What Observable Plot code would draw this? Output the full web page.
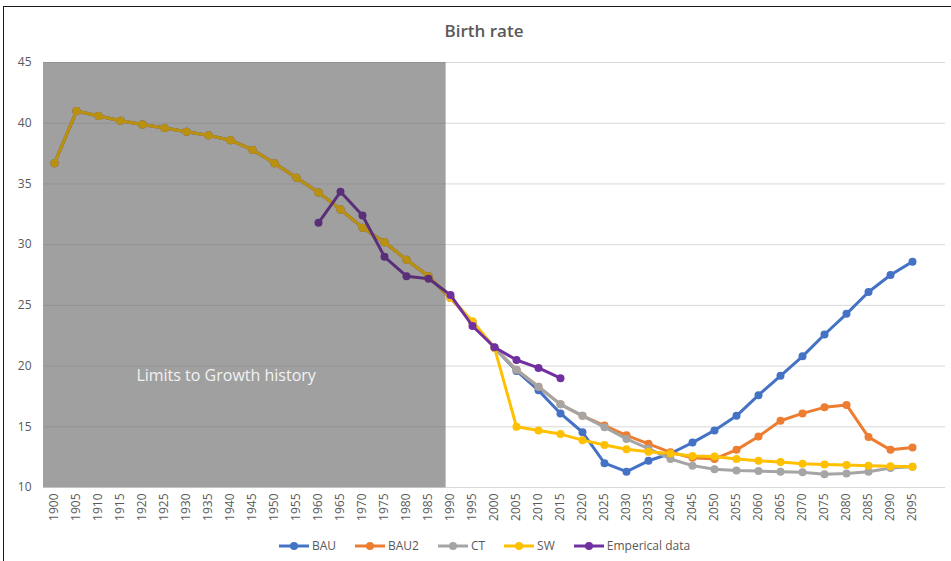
<!DOCTYPE html>
<html>
<head>
<meta charset="utf-8">
<script src="https://cdn.jsdelivr.net/npm/d3@7"></script>
<script src="https://cdn.jsdelivr.net/npm/@observablehq/plot@0.6"></script>
<style>
  html, body { margin: 0; padding: 0; background: #fff; overflow: hidden; }
  body { width: 951px; height: 561px; position: relative; font-family: "Open Sans", "Noto Sans", sans-serif; }
  #frame { position: absolute; left: 3px; top: 6px; width: 1000px; height: 700px; border: 1.5px solid #1a1a1a; box-sizing: border-box; }
  #title { position: absolute; left: 0; width: 968px; top: 19px; text-align: center; font-size: 17px; font-weight: 600; color: #595959; }
  #chart { position: absolute; left: 0; top: 50px; }
  #legend { position: absolute; left: 0; width: 968px; top: 537px; display: flex; justify-content: center; gap: 18px; font-size: 12px; color: #595959; }
  .item { display: flex; align-items: center; gap: 2px; }
  .item svg { display: block; }
</style>
</head>
<body>
<div id="frame"></div>
<div id="title">Birth rate</div>
<div id="chart"></div>
<div id="legend"></div>
<script>
// ---- data ----
const historyYears = [1900,1905,1910,1915,1920,1925,1930,1935,1940,1945,1950,1955,1960,1965,1970,1975,1980,1985,1990];
const historyValues = [36.7,41.0,40.6,40.2,39.9,39.6,39.3,39.0,38.6,37.8,36.7,35.5,34.3,32.9,31.4,30.2,28.75,27.4,25.6];

const scenarioYears = [1995,2000,2005,2010,2015,2020,2025,2030,2035,2040,2045,2050,2055,2060,2065,2070,2075,2080,2085,2090,2095];
const bau  = [23.6,21.5,19.6,18.0,16.1,14.55,12.0,11.3,12.2,12.8,13.7,14.7,15.9,17.6,19.2,20.8,22.6,24.3,26.1,27.5,28.6];
const bau2 = [23.6,21.5,19.7,18.3,16.85,15.9,15.1,14.3,13.6,12.9,12.45,12.35,13.1,14.2,15.5,16.1,16.6,16.8,14.15,13.1,13.3];
const ct   = [23.6,21.5,19.7,18.3,16.85,15.9,14.97,14.0,13.2,12.35,11.8,11.5,11.4,11.35,11.3,11.25,11.1,11.15,11.3,11.6,11.7];
const sw   = [23.7,21.5,15.0,14.7,14.4,13.9,13.5,13.15,12.95,12.8,12.6,12.55,12.35,12.2,12.1,11.95,11.9,11.85,11.8,11.75,11.7];

const empiricalYears = [1960,1965,1970,1975,1980,1985,1990,1995,2000,2005,2010,2015];
const empiricalValues = [31.8,34.35,32.4,29.0,27.4,27.2,25.85,23.3,21.55,20.5,19.85,19.0];

const seriesNames = ["BAU","BAU2","CT","SW","Emperical data"];
const seriesColors = ["#4472C4","#ED7D31","#A5A5A5","#FFC000","#7030A0"];

const xTicks = d3.range(1900, 2100, 5);
const yTicks = [10,15,20,25,30,35,40,45];
const xDomain = [1897.5, 2102.5];
const yDomain = [10, 45];
const shadedPeriod = [1897.5, 1989];
const shadedLabel = {year: 1939, value: 19.2, text: "Limits to Growth history"};

// ---- build tables ----
function scenarioRows(values) {
  const rows = historyYears.map((y, i) => ({year: y, value: historyValues[i]}));
  scenarioYears.forEach((y, i) => rows.push({year: y, value: values[i]}));
  return rows;
}
const tables = [
  scenarioRows(bau),
  scenarioRows(bau2),
  scenarioRows(ct),
  scenarioRows(sw),
  empiricalYears.map((y, i) => ({year: y, value: empiricalValues[i]}))
];

const marks = [];
// gridlines
marks.push(Plot.ruleY(yTicks, {y: d => d, stroke: "#d9d9d9", strokeWidth: 1}));
// shaded region base
marks.push(Plot.rect([shadedPeriod], {x1: d => d[0], x2: d => d[1], y1: yDomain[0], y2: yDomain[1], fill: "#d9d9d9"}));
marks.push(Plot.ruleY(yTicks, {y: d => d, x1: shadedPeriod[0], x2: shadedPeriod[1], stroke: "#c4c4c4", strokeWidth: 1}));
// series
tables.forEach((t, i) => {
  marks.push(Plot.line(t, {x: "year", y: "value", stroke: seriesColors[i], strokeWidth: 3, curve: "linear"}));
  marks.push(Plot.dot(t, {x: "year", y: "value", fill: seriesColors[i], r: 4}));
});
// overlay darkening
marks.push(Plot.rect([shadedPeriod], {x1: d => d[0], x2: d => d[1], y1: yDomain[0], y2: yDomain[1], fill: "#2e2e2e", fillOpacity: 0.33}));
marks.push(Plot.text([shadedLabel], {x: "year", y: "value", text: "text", fill: "#f2f2f2", fontSize: 16}));

const chart = Plot.plot({
  width: 951,
  height: 480,
  marginTop: 12,
  marginBottom: 43,
  marginLeft: 43,
  marginRight: 6,
  style: {fontFamily: "'Open Sans', 'Noto Sans', sans-serif", fontSize: "12px", color: "#595959", background: "transparent"},
  x: {domain: xDomain, ticks: xTicks, tickFormat: "d", tickRotate: -90, tickSize: 0, tickPadding: 6, label: null},
  y: {domain: yDomain, ticks: yTicks, tickSize: 0, tickPadding: 12, label: null},
  marks
});
document.getElementById("chart").appendChild(chart);

// ---- legend ----
const legend = document.getElementById("legend");
seriesNames.forEach((name, i) => {
  const item = document.createElement("div");
  item.className = "item";
  item.innerHTML = `<svg width="32" height="10"><line x1="1" x2="31" y1="5" y2="5" stroke="${seriesColors[i]}" stroke-width="3"/><circle cx="16" cy="5" r="4" fill="${seriesColors[i]}"/></svg><span>${name}</span>`;
  legend.appendChild(item);
});
</script>
</body>
</html>
